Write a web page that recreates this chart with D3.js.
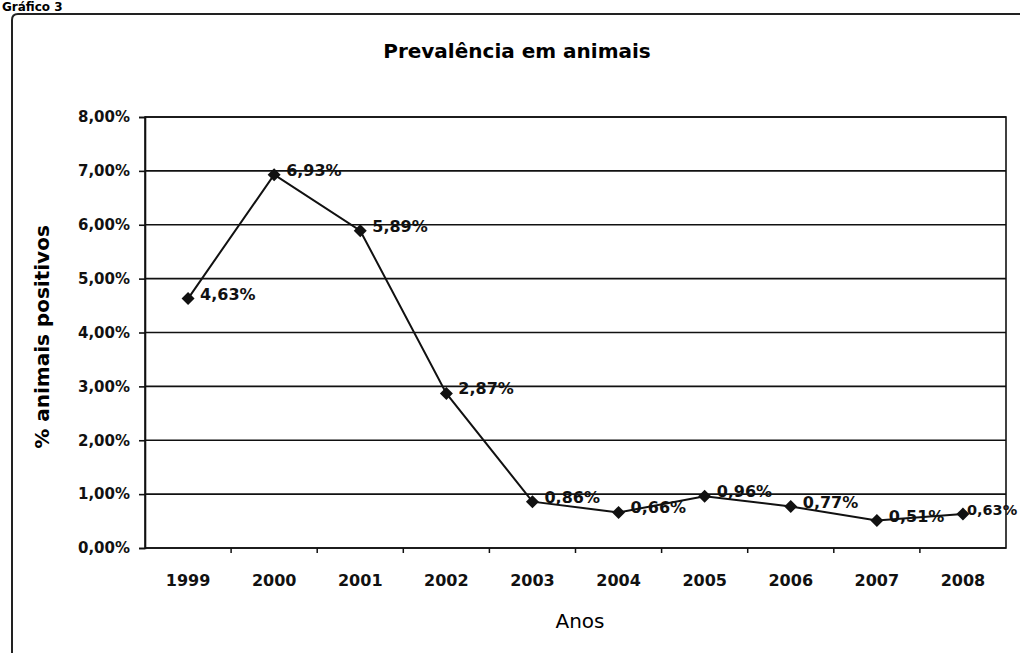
<!DOCTYPE html>
<html>
<head>
<meta charset="utf-8">
<script src="https://cdn.jsdelivr.net/npm/d3@7"></script>
<style>
  body { margin: 0; background: #fff; }
  svg { font-family: "DejaVu Sans", "Liberation Sans", Arial, sans-serif; }
</style>
</head>
<body>
<svg id="canvas" width="1020" height="653"></svg>
<script>
// data
let years = ["1999", "2000", "2001", "2002", "2003", "2004", "2005", "2006", "2007", "2008"];
let prevalence = [4.63, 6.93, 5.89, 2.87, 0.86, 0.66, 0.96, 0.77, 0.51, 0.63];
let yTicks = [0, 1, 2, 3, 4, 5, 6, 7, 8];

let svg = d3.select("#canvas");
let fmt = (v) => d3.format(".2f")(v).replace(".", ",") + "%";

// plot area
let plotLeft = 145, plotRight = 1006, plotTop = 117, plotBottom = 548;

let x = d3.scaleBand().domain(years).range([plotLeft, plotRight]);
let y = d3.scaleLinear().domain([0, 8]).range([plotBottom, plotTop]);
let cx = (i) => x(years[i]) + x.bandwidth() / 2;

// caption above the frame
svg.append("text")
    .attr("x", 2).attr("y", 11)
    .style("font-size", "12px").style("font-weight", "bold")
    .text("Gráfico 3");

// outer chart frame
svg.append("path")
    .attr("d", "M12,660 L12,20 Q12,14 18,14 L1030,14")
    .attr("fill", "none").attr("stroke", "#222").attr("stroke-width", 2);

// gridlines
svg.append("g").selectAll("line")
    .data(yTicks)
    .join("line")
    .attr("x1", plotLeft).attr("x2", plotRight)
    .attr("y1", d => y(d)).attr("y2", d => y(d))
    .attr("stroke", "#111").attr("stroke-width", 1.6);

// plot border
svg.append("rect")
    .attr("x", plotLeft).attr("y", plotTop)
    .attr("width", plotRight - plotLeft).attr("height", plotBottom - plotTop)
    .attr("fill", "none").attr("stroke", "#111").attr("stroke-width", 1.6);

// y axis
let yAxis = svg.append("g")
    .attr("transform", "translate(" + plotLeft + ",0)")
    .call(d3.axisLeft(y).tickValues(yTicks).tickSize(6).tickPadding(9).tickFormat(fmt));
yAxis.select(".domain").attr("stroke", "#111").attr("stroke-width", 1.6);
yAxis.selectAll(".tick line").attr("stroke", "#111").attr("stroke-width", 1.6);
yAxis.selectAll("text")
    .style("font-size", "15px").style("font-weight", "bold")
    .style("font-family", "DejaVu Sans")
    .attr("fill", "#111");

// x axis
let xAxis = svg.append("g")
    .attr("transform", "translate(0," + plotBottom + ")")
    .call(d3.axisBottom(x).tickSize(0).tickPadding(27));
xAxis.select(".domain").remove();
xAxis.selectAll("text")
    .style("font-size", "16px").style("font-weight", "bold")
    .style("font-family", "DejaVu Sans")
    .attr("fill", "#111");

// small ticks between categories
svg.append("g").selectAll("line")
    .data(years.slice(1))
    .join("line")
    .attr("x1", d => x(d)).attr("x2", d => x(d))
    .attr("y1", plotBottom).attr("y2", plotBottom + 5)
    .attr("stroke", "#111").attr("stroke-width", 1.5);

// title
svg.append("text")
    .attr("x", 517).attr("y", 58)
    .attr("text-anchor", "middle")
    .style("font-size", "20px").style("font-weight", "bold")
    .text("Prevalência em animais");

// axis titles
svg.append("text")
    .attr("x", 580).attr("y", 628)
    .attr("text-anchor", "middle")
    .style("font-size", "20px")
    .text("Anos");

svg.append("text")
    .attr("transform", "translate(49,337) rotate(-90)")
    .attr("text-anchor", "middle")
    .style("font-size", "20px").style("font-weight", "bold")
    .text("% animais positivos");

// series line
let line = d3.line()
    .x((d, i) => cx(i))
    .y(d => y(d));

svg.append("path")
    .datum(prevalence)
    .attr("d", line)
    .attr("fill", "none").attr("stroke", "#111").attr("stroke-width", 2);

// diamond markers (square rotated 45 degrees)
let r = 6.5;
svg.append("g").selectAll("path")
    .data(prevalence)
    .join("path")
    .attr("transform", (d, i) => "translate(" + cx(i) + "," + y(d) + ")")
    .attr("d", "M0," + (-r) + "L" + r + ",0L0," + r + "L" + (-r) + ",0Z")
    .attr("fill", "#111");

// data labels
let last = prevalence.length - 1;
svg.append("g").selectAll("text")
    .data(prevalence)
    .join("text")
    .attr("x", (d, i) => cx(i) + (i === last ? 4 : 12))
    .attr("y", d => y(d) + 1)
    .style("font-size", (d, i) => i === last ? "14.5px" : "16px")
    .style("font-weight", "bold")
    .attr("fill", "#111")
    .text(d => fmt(d));
</script>
</body>
</html>
